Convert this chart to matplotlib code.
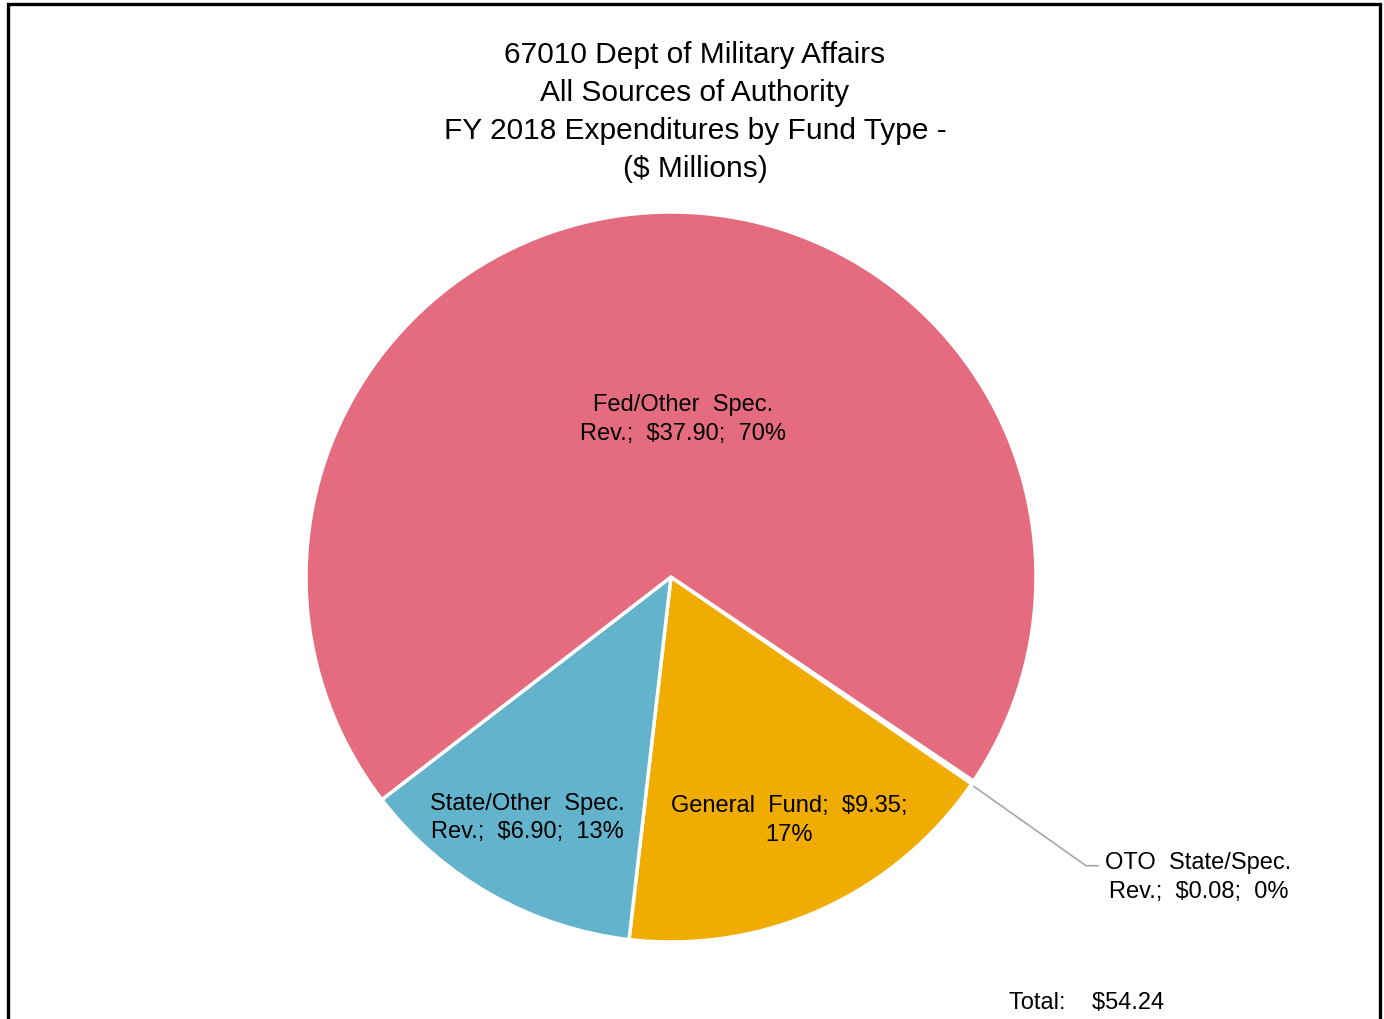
import matplotlib
matplotlib.use("Agg")
import matplotlib.pyplot as plt
from matplotlib.patches import Rectangle
from matplotlib.lines import Line2D

# dados (ordem horaria a partir de ~326 graus)
fund_names = ["OTO State/Spec. Rev.", "General Fund", "State/Other Spec. Rev.", "Fed/Other Spec. Rev."]
fund_values = [0.08, 9.35, 6.90, 37.90]
fund_colors = ["#F0AC00", "#F0AC00", "#62B3CB", "#E56C7E"]
label_text = ["OTO  State/Spec.\nRev.;  $0.08;  0%",
              "General  Fund;  $9.35;\n17%",
              "State/Other  Spec.\nRev.;  $6.90;  13%",
              "Fed/Other  Spec.\nRev.;  $37.90;  70%"]
title_lines = ["67010 Dept of Military Affairs", "All Sources of Authority",
               "FY 2018 Expenditures by Fund Type -", "($ Millions)"]
total_label = "Total:    $54.24"

W, H = 1384, 1020
fig = plt.figure(figsize=(W / 100, H / 100), dpi=100)

# moldura preta
fig.add_artist(Rectangle((8 / W, -0.01), (1380 - 8) / W, 1.0 - 5 / H + 0.01,
                         transform=fig.transFigure, fill=False, ec="black", lw=2.4))

cx, cy, r = 671, 578, 365
ax = fig.add_axes([(cx - r) / W, (H - cy - r) / H, 2 * r / W, 2 * r / H])
wedges, _ = ax.pie(fund_values, colors=fund_colors, startangle=326.0, counterclock=False,
                   radius=1.0, wedgeprops=dict(edgecolor="white", linewidth=2.5))
wedges[0].set_facecolor("white")
ax.set_xlim(-1, 1)
ax.set_ylim(-1, 1)
ax.axis("off")

lab_font = dict(family=["Liberation Sans", "DejaVu Sans"], fontsize=17, color="black",
                ha="center", va="center", linespacing=1.38)
ax.text(1.445, -0.82, label_text[0], **lab_font)
ax.text(0.324, -0.665, label_text[1], **lab_font)
ax.text(-0.393, -0.657, label_text[2], **lab_font)
ax.text(0.033, 0.434, label_text[3], **lab_font)

# linha guia do OTO
ax.add_line(Line2D([0.83, 1.137, 1.17], [-0.574, -0.791, -0.791], color="#A6A6A6", lw=1.2,
                   clip_on=False))

title_font = ["Liberation Sans", "DejaVu Sans"]
for i, line in enumerate(title_lines):
    fig.text(695 / W, 1 - (55 + 38 * i) / H, line, ha="center", va="center",
             fontsize=21.5, family=title_font)

fig.text(1087 / W, 1 - 1003 / H, total_label, ha="center", va="center",
         fontsize=17, family=["Liberation Sans", "DejaVu Sans"])

fig.savefig("out.png", dpi=100)
